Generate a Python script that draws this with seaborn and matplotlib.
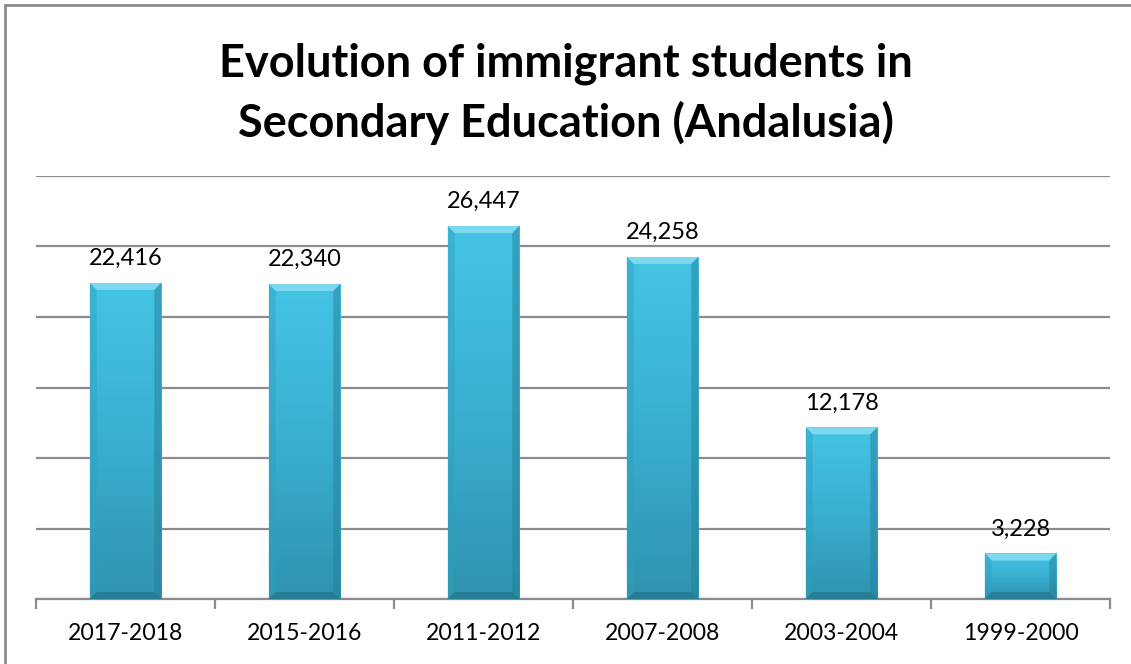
import numpy as np
import pandas as pd
import matplotlib
matplotlib.use("Agg")
import matplotlib.pyplot as plt
from matplotlib.patches import Polygon
from matplotlib.lines import Line2D
from matplotlib.colors import LinearSegmentedColormap
import seaborn as sns

# School years and number of immigrant students in secondary education
years = ["2017-2018", "2015-2016", "2011-2012", "2007-2008", "2003-2004", "1999-2000"]
students = [22416, 22340, 26447, 24258, 12178, 3228]

df = pd.DataFrame({"year": years, "students": students})

sns.set_theme(style="white")
plt.rcParams["font.family"] = ["Lato", "DejaVu Sans"]
plt.rcParams["text.color"] = "black"

W, H, DPI = 1131, 664, 100
fig = plt.figure(figsize=(W / DPI, H / DPI), dpi=DPI)
ax = fig.add_axes([36 / W, 65 / H, (1110 - 36) / W, (599 - 176) / H])

bar_color = "#3BB4D6"
sns.barplot(data=df, x="year", y="students", color=bar_color, width=0.4,
            saturation=1, ax=ax, zorder=3, edgecolor="none")

ax.set_ylim(0, 30000)
ax.set_xlim(-0.5, len(years) - 0.5)
ax.set_yticks(np.arange(0, 30001, 5000))
ax.yaxis.grid(True, color="#8C8C8C", linewidth=1.6, zorder=0)
ax.set_axisbelow(True)
ax.tick_params(axis="y", left=False, labelleft=False)
ax.set_xlabel("")
ax.set_ylabel("")

for s in ["left", "right", "top"]:
    ax.spines[s].set_visible(False)
ax.spines["bottom"].set_color("#8C8C8C")
ax.spines["bottom"].set_linewidth(1.6)

# category separators as downward ticks
ax.set_xticks(np.arange(len(years)))
ax.set_xticklabels(years, fontsize=16.6, color="black")
ax.set_xticks(np.arange(-0.5, len(years)), minor=True)
ax.tick_params(axis="x", which="major", length=0, pad=17)
ax.tick_params(axis="x", which="minor", length=7, width=1.6, color="#8C8C8C",
               direction="out", bottom=True)

# shaded, bevelled bars
cmap = LinearSegmentedColormap.from_list("bar", ["#45C4E6", "#3AAFD0", "#2F93AE"])
grad = np.linspace(0, 1, 256).reshape(-1, 1)
to_data = ax.transData
inv = ax.transData.inverted()
for p, v in zip(ax.patches, students):
    x0, y0 = p.get_x(), p.get_y()
    w, h = p.get_width(), p.get_height()
    im = ax.imshow(grad, extent=(x0, x0 + w, y0, y0 + h), aspect="auto",
                   cmap=cmap, origin="upper", zorder=3.5)
    im.set_clip_path(p)
    # bevel size in data units (about 7 px)
    (px0, py0) = to_data.transform((x0, y0))
    (px1, py1) = to_data.transform((x0 + w, y0 + h))
    b = 7
    dx = inv.transform((px0 + b, py0))[0] - x0
    dy = y0 + h - inv.transform((px0, py1 - b))[1]
    top = Polygon([(x0, y0 + h), (x0 + w, y0 + h), (x0 + w - dx, y0 + h - dy),
                   (x0 + dx, y0 + h - dy)], closed=True, facecolor="#7ED8F0",
                  edgecolor="none", zorder=4)
    left = Polygon([(x0, y0), (x0, y0 + h), (x0 + dx, y0 + h - dy), (x0 + dx, y0 + dy)],
                   closed=True, facecolor="#2F9FBE", alpha=0.45, edgecolor="none", zorder=4)
    right = Polygon([(x0 + w, y0), (x0 + w, y0 + h), (x0 + w - dx, y0 + h - dy),
                     (x0 + w - dx, y0 + dy)], closed=True, facecolor="#23809A",
                    alpha=0.5, edgecolor="none", zorder=4)
    bottom = Polygon([(x0, y0), (x0 + w, y0), (x0 + w - dx, y0 + dy), (x0 + dx, y0 + dy)],
                     closed=True, facecolor="#226F84", alpha=0.6, edgecolor="none", zorder=4)
    for poly in (top, left, right, bottom):
        ax.add_patch(poly)
    ax.annotate(f"{v:,}", (x0 + w / 2, y0 + h), xytext=(0, 10),
                textcoords="offset points", ha="center", va="bottom",
                fontsize=17, color="black", zorder=5)

fig.text(0.5, 1 - 94 / H,
         "Evolution of immigrant students in\nSecondary Education (Andalusia)",
         ha="center", va="center", fontsize=32.5, fontweight="bold",
         color="black", linespacing=1.45)

# chart frame
fig.add_artist(Line2D([5 / W, 5 / W], [0, 1 - 5 / H], color="#8C8C8C", lw=2,
                      transform=fig.transFigure))
fig.add_artist(Line2D([5 / W, 1], [1 - 5 / H, 1 - 5 / H], color="#8C8C8C", lw=2,
                      transform=fig.transFigure))

fig.savefig("out.png", dpi=DPI)
